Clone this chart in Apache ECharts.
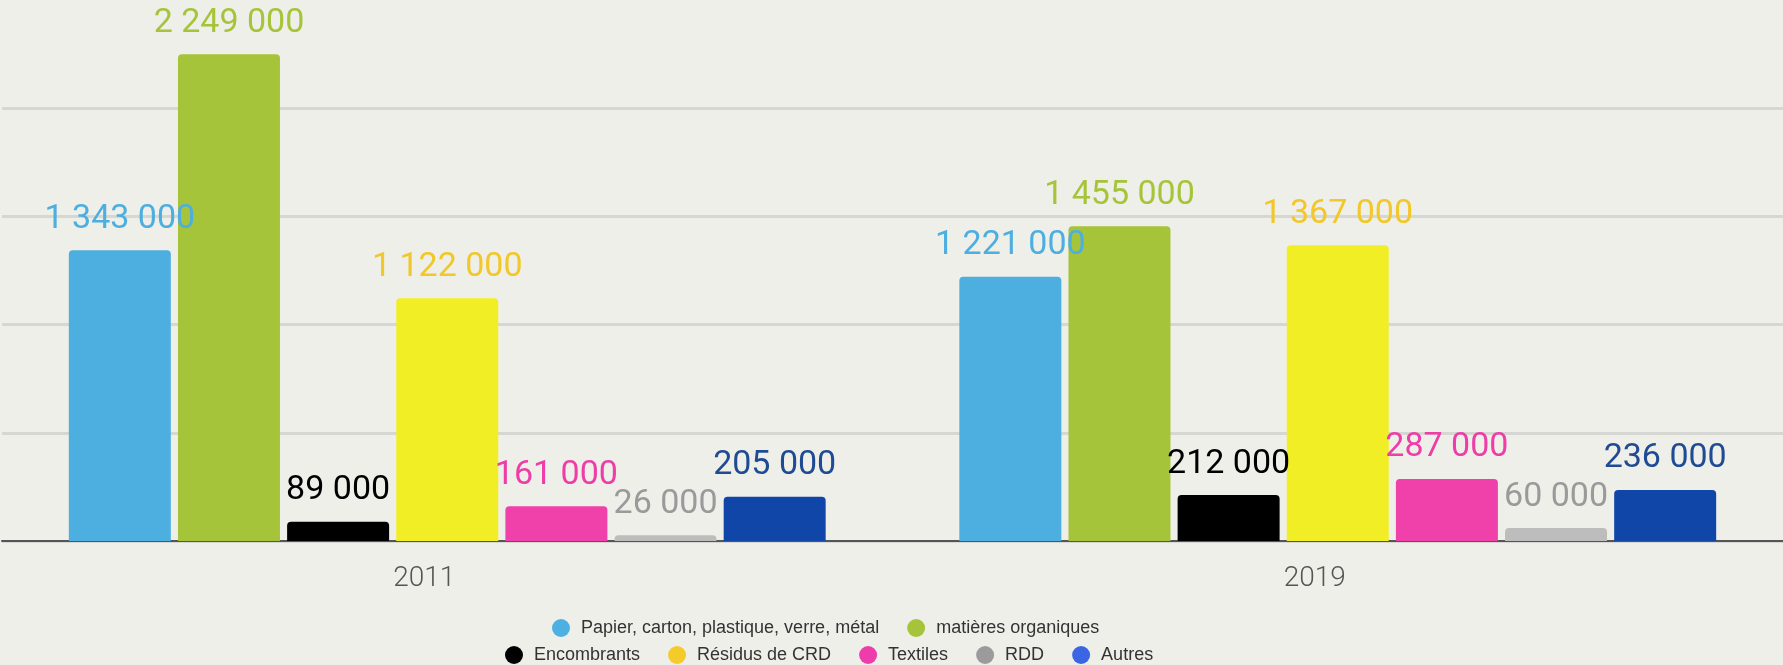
<!DOCTYPE html>
<html>
<head>
<meta charset="utf-8">
<title>Déchets 2011 / 2019</title>
<script src="https://cdn.jsdelivr.net/npm/echarts@6/dist/echarts.min.js"></script>
<style>
  html, body { margin: 0; padding: 0; background: #EFEFEA; }
  #chart { width: 1783px; height: 665px; }
</style>
</head>
<body>
<div id="chart"></div>
<script>
// données
const years = ['2011', '2019'];
const seriesNames = ['Papier, carton, plastique, verre, métal', 'matières organiques', 'Encombrants', 'Résidus de CRD', 'Textiles', 'RDD', 'Autres'];
const values2011 = [1343000, 2249000, 89000, 1122000, 161000, 26000, 205000];
const values2019 = [1221000, 1455000, 212000, 1367000, 287000, 60000, 236000];

// couleurs
const barColors = ['#4DAEE0', '#A6C43A', '#000000', '#F2EE26', '#F040AA', '#BDBDBD', '#0F46A8'];
const labelColors = ['#4DAEE0', '#A6C43A', '#000000', '#F2C72A', '#EE3DA6', '#9A9A9A', '#1F4B93'];
const legendColors = ['#4DB0E3', '#A6C43A', '#000000', '#F5CB2A', '#EE3DAA', '#9B9B9B', '#3A66E6'];

function fmt(v) {
  // 1343000 -> "1 343 000"
  return String(v).replace(/\B(?=(\d{3})+(?!\d))/g, ' ');
}

function legendData(names) {
  return names.map(function (n) {
    let i = seriesNames.indexOf(n);
    return { name: n, itemStyle: { color: legendColors[i] } };
  });
}

const legendText = { color: '#333', fontSize: 18, fontFamily: 'Liberation Sans', padding: [0, 0, 0, 6] };

const option = {
  backgroundColor: '#EFEFEA',
  animation: false,
  grid: { left: 2, right: 0, top: -1, bottom: 124 },
  legend: [
    {
      data: legendData(seriesNames.slice(0, 2)),
      left: 552, top: 619, padding: 0,
      icon: 'circle', itemWidth: 18, itemHeight: 18, itemGap: 28,
      textStyle: legendText
    },
    {
      data: legendData(seriesNames.slice(2)),
      left: 505, top: 646, padding: 0,
      icon: 'circle', itemWidth: 18, itemHeight: 18, itemGap: 28,
      textStyle: legendText
    }
  ],
  xAxis: {
    type: 'category',
    data: years,
    axisLine: { lineStyle: { color: '#555', width: 2 } },
    axisTick: { show: false },
    axisLabel: { color: '#555', fontSize: 28, fontWeight: 300, fontFamily: 'Roboto', margin: 24, padding: [0, 46, 0, 0] }
  },
  yAxis: {
    type: 'value',
    min: 0,
    max: 2500000,
    interval: 500000,
    axisLabel: { show: false },
    axisLine: { show: false },
    axisTick: { show: false },
    splitLine: { showMaxLine: false, lineStyle: { color: '#D6D6D3', width: 3 } }
  },
  series: seriesNames.map(function (name, i) {
    return {
      name: name,
      type: 'bar',
      barWidth: 102,
      barGap: '7%',
      data: [values2011[i], values2019[i]],
      itemStyle: { color: barColors[i], borderRadius: [4, 4, 0, 0] },
      label: {
        show: true,
        position: 'top',
        distance: 14,
        color: labelColors[i],
        fontSize: 34,
        fontWeight: 400,
        fontFamily: 'Roboto',
        formatter: function (p) { return fmt(p.value); }
      }
    };
  })
};

const chart = echarts.init(document.getElementById('chart'));
chart.setOption(option);
window.addEventListener('resize', () => {
  chart.resize();
});
</script>
</body>
</html>
